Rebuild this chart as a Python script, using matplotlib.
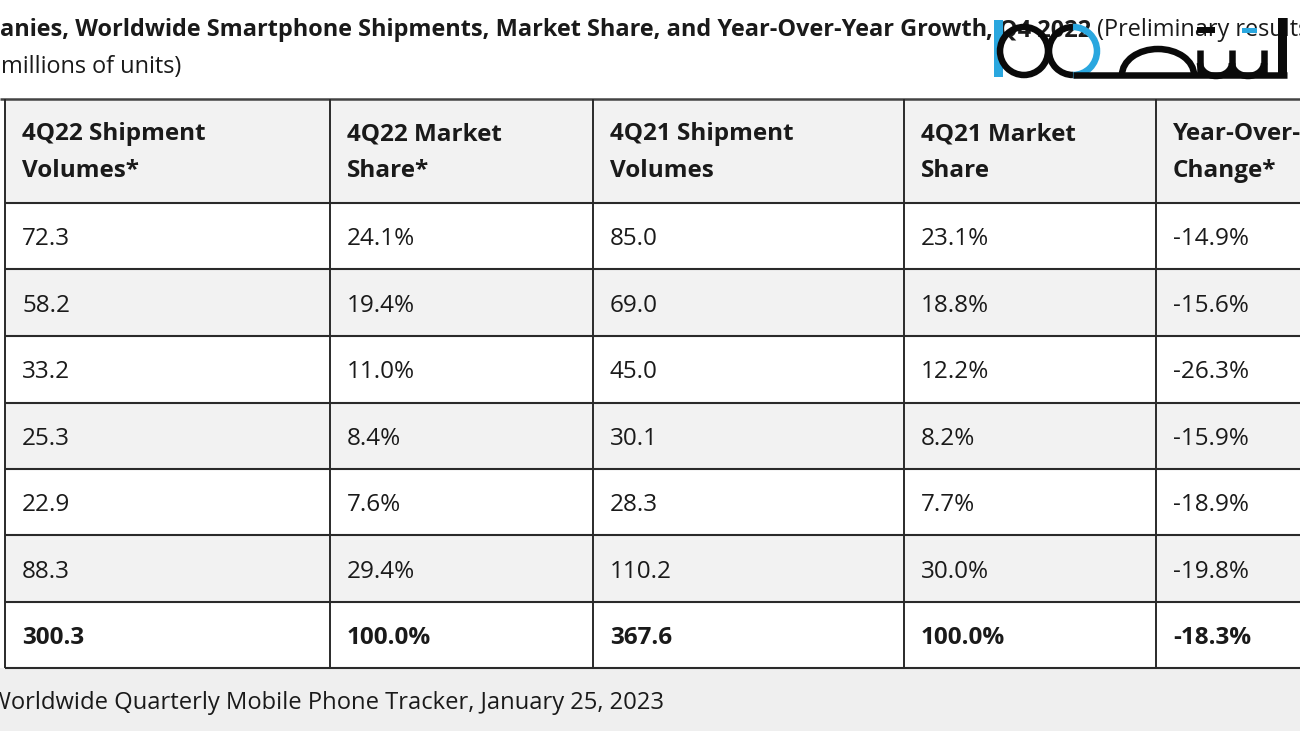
import matplotlib
matplotlib.use("Agg")
import matplotlib.pyplot as plt
from matplotlib.patches import Rectangle, Circle, Arc

# ---------------- data ----------------
col_headers = ["4Q22 Shipment\nVolumes*", "4Q22 Market\nShare*", "4Q21 Shipment\nVolumes",
               "4Q21 Market\nShare", "Year-Over-Year\nChange*"]
companies = ["Apple", "Samsung", "Xiaomi", "OPPO", "vivo", "Others", "Total"]
ship_4q22 = [72.3, 58.2, 33.2, 25.3, 22.9, 88.3, 300.3]
share_4q22 = [24.1, 19.4, 11.0, 8.4, 7.6, 29.4, 100.0]
ship_4q21 = [85.0, 69.0, 45.0, 30.1, 28.3, 110.2, 367.6]
share_4q21 = [23.1, 18.8, 12.2, 8.2, 7.7, 30.0, 100.0]
yoy_change = [-14.9, -15.6, -26.3, -15.9, -18.9, -19.8, -18.3]

title_bold = "anies, Worldwide Smartphone Shipments, Market Share, and Year-Over-Year Growth"
title_bold2 = ", Q4 2022 "
title_reg = "(Preliminary results, shipments in"
subtitle = "millions of units)"
source = "Worldwide Quarterly Mobile Phone Tracker, January 25, 2023"

# ---------------- layout ----------------
W, H = 1300, 731
FONT = ["Open Sans", "DejaVu Sans"]
TXT = "#1a1a1a"
GRAY = "#f2f2f2"
LINE = "#2a2a2a"

fig = plt.figure(figsize=(W / 100, H / 100), dpi=100)
ax = fig.add_axes([0, 0, 1, 1])
ax.set_xlim(0, W)
ax.set_ylim(H, 0)
ax.axis("off")
fig.patch.set_facecolor("white")

col_x = [5, 330, 593, 904, 1156, 1400]
row_y = [99, 203, 269, 336, 403, 469, 535, 602, 668]
pad = 17

# backgrounds
ax.add_patch(Rectangle((0, row_y[-1]), W, H - row_y[-1], color="#efefef", zorder=0, lw=0))
ax.add_patch(Rectangle((col_x[0], row_y[0]), W, row_y[1] - row_y[0], color=GRAY, zorder=0, lw=0))
for i in range(len(row_y) - 2):
    if i % 2 == 1:
        ax.add_patch(Rectangle((col_x[0], row_y[i + 1]), W, row_y[i + 2] - row_y[i + 1],
                               color=GRAY, zorder=0, lw=0))

# grid lines
for j, y in enumerate(row_y):
    ax.plot([0 if j == 0 else col_x[0], W], [y, y], color=LINE if j else "#444444",
            lw=1.5 if j else 1.8, zorder=2, solid_capstyle="butt")
for x in col_x[:-1]:
    ax.plot([x, x], [row_y[0], row_y[-1]], color=LINE, lw=1.4, zorder=2, solid_capstyle="butt")

BODY = 17.5
# header
for c, h in enumerate(col_headers):
    l1, l2 = h.split("\n")
    ax.text(col_x[c] + pad, 140, l1, fontsize=BODY, fontweight="bold", family=FONT,
            color=TXT, va="baseline", ha="left", zorder=3)
    ax.text(col_x[c] + pad, 177, l2, fontsize=BODY, fontweight="bold", family=FONT,
            color=TXT, va="baseline", ha="left", zorder=3)

cols = [
    [f"{v:.1f}" for v in ship_4q22],
    [f"{v:.1f}%" for v in share_4q22],
    [f"{v:.1f}" for v in ship_4q21],
    [f"{v:.1f}%" for v in share_4q21],
    [f"{v:.1f}%" for v in yoy_change],
]
n = len(companies)
for r in range(n):
    yc = (row_y[r + 1] + row_y[r + 2]) / 2
    bold = companies[r] == "Total"
    for c in range(len(cols)):
        ax.text(col_x[c] + pad, yc + 9, cols[c][r], fontsize=BODY,
                fontweight="bold" if bold else "normal", family=FONT, color=TXT,
                va="baseline", ha="left", zorder=3)

# ---------------- title / subtitle / source (width-fitted) ----------------
renderer = fig.canvas.get_renderer()


def fitted(text, x0, x1, y, weight="normal"):
    t = ax.text(x0, y, text, fontsize=20, fontweight=weight, family=FONT, color=TXT,
                va="baseline", ha="left", zorder=3)
    w = t.get_window_extent(renderer).width
    t.set_fontsize(20 * (x1 - x0) / w)
    return t


tb = fitted(title_bold, 0, 986, 36, "bold")
fs_title = tb.get_fontsize()
t2 = ax.text(986, 36, title_bold2, fontsize=fs_title, fontweight="bold", family=FONT,
             color=TXT, va="baseline", ha="left", zorder=3)
w2 = t2.get_window_extent(renderer).width
ax.text(986 + w2, 36, title_reg, fontsize=fs_title, family=FONT, color=TXT,
        va="baseline", ha="left", zorder=3)
ax.text(1, 73, subtitle, fontsize=fs_title, family=FONT, color=TXT,
        va="baseline", ha="left", zorder=3)
fitted(source, -11, 661, 709)

# ---------------- watermark logo ----------------
BLUE = "#2aa7df"
K = "#0a0a0a"
lw = 6.5 * 0.72
ax.add_patch(Rectangle((994, 20), 9, 57, color=BLUE, zorder=5, lw=0))
ax.add_patch(Circle((1024, 51), 24, fill=False, ec=K, lw=lw, zorder=5))
ax.add_patch(Arc((1073, 51), 48, 48, theta1=90, theta2=270, ec=K, lw=lw, zorder=5))
ax.add_patch(Arc((1073, 51), 48, 48, theta1=-90, theta2=90, ec=BLUE, lw=lw, zorder=5))
ax.plot([1073, 1287], [74.5, 74.5], color=K, lw=lw, zorder=5, solid_capstyle="butt")
ax.add_patch(Arc((1158, 75), 72, 52, theta1=180, theta2=360, ec=K, lw=lw, zorder=5))
for xs in (1200, 1232, 1264):
    ax.plot([xs, xs], [50, 77], color=K, lw=lw, zorder=5, solid_capstyle="butt")
ax.add_patch(Arc((1216, 63), 32, 26, theta1=0, theta2=180, ec=K, lw=lw, zorder=5))
ax.add_patch(Arc((1248, 63), 32, 26, theta1=0, theta2=180, ec=K, lw=lw, zorder=5))
ax.add_patch(Rectangle((1197, 27), 18, 6, color=K, zorder=5, lw=0))
ax.add_patch(Rectangle((1242, 28), 15, 5, color=BLUE, zorder=5, lw=0))
ax.add_patch(Rectangle((1278, 18), 9, 60, color=K, zorder=5, lw=0))

fig.savefig("out.png", dpi=100, facecolor=fig.get_facecolor())
